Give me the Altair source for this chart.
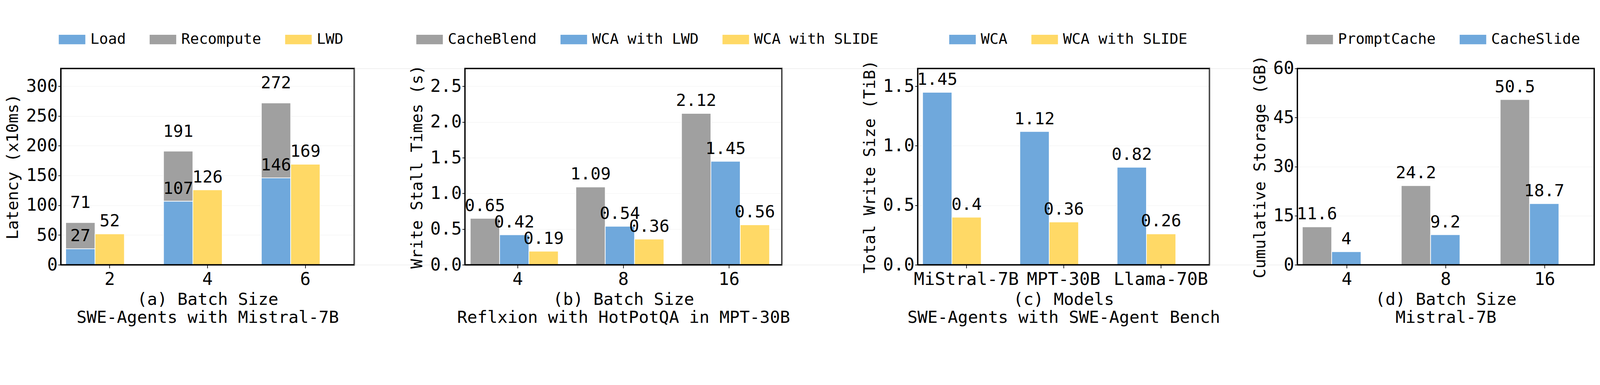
import altair as alt
import pandas as pd

FONT = "DejaVu Sans Mono"
BLUE, GRAY, YEL = "#6fa8dc", "#a0a0a0", "#ffd966"

# (a)
a_batch = ["2", "4", "6"]
a_load = [27, 107, 146]
a_total = [71, 191, 272]
a_lwd = [52, 126, 169]
# (b)
b_batch = ["4", "8", "16"]
b_cacheblend = [0.65, 1.09, 2.12]
b_lwd = [0.42, 0.54, 1.45]
b_slide = [0.19, 0.36, 0.56]
# (c)
c_models = ["MiStral-7B", "MPT-30B", "Llama-70B"]
c_wca = [1.45, 1.12, 0.82]
c_slide = [0.4, 0.36, 0.26]
# (d)
d_batch = ["4", "8", "16"]
d_prompt = [11.6, 24.2, 50.5]
d_slide = [4, 9.2, 18.7]

H = 585
RECT = "M-1.4,-0.5H1.4V0.5H-1.4Z"


def legend(lx):
    return alt.Legend(orient="none", legendX=lx, legendY=-115, title=None, direction="horizontal",
                      labelFont=FONT, labelFontSize=44, labelLimit=0, symbolType=RECT,
                      symbolSize=3200, symbolStrokeWidth=0, columnPadding=70,
                      labelOffset=26)


def xax(title):
    return alt.Axis(title=title, labelFont=FONT, labelFontSize=52, labelAngle=0, labelLimit=0,
                    titleFont=FONT, titleFontSize=50, titleFontWeight="normal",
                    domainColor="black", domainWidth=3, tickColor="black", tickSize=10, tickWidth=2,
                    titlePadding=10, labelPadding=8, titleLineHeight=54)


def yax(title, vals):
    return alt.Axis(title=title, values=vals, labelFont=FONT, labelFontSize=52,
                    titleFont=FONT, titleFontSize=48, titleFontWeight="normal",
                    domainColor="black", domainWidth=3, tickColor="black", tickSize=8, tickWidth=2,
                    gridColor="#eeeeee", titlePadding=14)


def panel(df, xtitle, ytitle, ydom, yvals, cats, colors, xorder, slots, w, lx):
    base = alt.Chart(df)
    x = alt.X("g:N", sort=xorder, axis=xax(xtitle),
              scale=alt.Scale(paddingInner=0.1, paddingOuter=0.05))
    xo = alt.XOffset("slot:N", sort=slots, scale=alt.Scale(paddingInner=0, paddingOuter=0))
    bars = base.mark_bar(stroke="white", strokeWidth=2).encode(
        x=x, xOffset=xo,
        y=alt.Y("y0:Q", scale=alt.Scale(domain=ydom, nice=False), axis=yax(ytitle, yvals)),
        y2="y1:Q",
        color=alt.Color("s:N", scale=alt.Scale(domain=cats, range=colors),
                        legend=legend(lx)),
        order="o:Q",
    )
    txt = base.transform_filter("datum.lab != ''").mark_text(
        font=FONT, fontSize=50, baseline="bottom", dy=-12).encode(
        x=x, xOffset=xo, y=alt.Y("ly:Q"), text="lab:N")
    frame = alt.Chart(df.head(1)).mark_rect(fill=None, stroke="black", strokeWidth=4).encode(
        x=alt.value(0), x2=alt.value(w), y=alt.value(0), y2=alt.value(H))
    return alt.layer(bars, txt, frame).properties(width=w, height=H)


def spacer(w):
    return alt.Chart(pd.DataFrame({"v": [0]})).mark_point(opacity=0).encode(
        x=alt.value(0), y=alt.value(0)).properties(width=w, height=H)


rows = []
for i, g in enumerate(a_batch):
    rows.append(dict(g=g, slot="A", s="Load", y0=0, y1=a_load[i], o=0, ly=a_load[i], lab=str(a_load[i])))
    rows.append(dict(g=g, slot="A", s="Recompute", y0=a_load[i], y1=a_total[i], o=1, ly=a_total[i] + 12, lab=str(a_total[i])))
    rows.append(dict(g=g, slot="B", s="LWD", y0=0, y1=a_lwd[i], o=2, ly=a_lwd[i], lab=str(a_lwd[i])))
pa = panel(pd.DataFrame(rows), ["(a) Batch Size", "SWE-Agents with Mistral-7B"],
           "Latency (x10ms)", [0, 330], [0, 50, 100, 150, 200, 250, 300],
           ["Load", "Recompute", "LWD"], [BLUE, GRAY, YEL], a_batch, ["A", "B"], 875, 5)

rows = []
for i, g in enumerate(b_batch):
    for sl, s, v in [("A", "CacheBlend", b_cacheblend), ("B", "WCA with LWD", b_lwd), ("C", "WCA with SLIDE", b_slide)]:
        rows.append(dict(g=g, slot=sl, s=s, y0=0, y1=v[i], o=0, ly=v[i], lab=f"{v[i]:.2f}"))
pb = panel(pd.DataFrame(rows), ["(b) Batch Size", "Reflxion with HotPotQA in MPT-30B"],
           "Write Stall Times (s)", [0, 2.75], [0, 0.5, 1.0, 1.5, 2.0, 2.5],
           ["CacheBlend", "WCA with LWD", "WCA with SLIDE"], [GRAY, BLUE, YEL], b_batch, ["A", "B", "C"],
           945, -134)

rows = []
for i, g in enumerate(c_models):
    for sl, s, v in [("A", "WCA", c_wca), ("B", "WCA with SLIDE", c_slide)]:
        rows.append(dict(g=g, slot=sl, s=s, y0=0, y1=v[i], o=0, ly=v[i], lab=f"{v[i]:g}"))
pc = panel(pd.DataFrame(rows), ["(c) Models", "SWE-Agents with SWE-Agent Bench"],
           "Total Write Size (TiB)", [0, 1.65], [0, 0.5, 1.0, 1.5],
           ["WCA", "WCA with SLIDE"], [BLUE, YEL], c_models, ["A", "B"], 870, 105)

rows = []
for i, g in enumerate(d_batch):
    for sl, s, v in [("A", "PromptCache", d_prompt), ("B", "CacheSlide", d_slide)]:
        rows.append(dict(g=g, slot=sl, s=s, y0=0, y1=v[i], o=0, ly=v[i], lab=f"{v[i]:g}"))
pd_ = panel(pd.DataFrame(rows), ["(d) Batch Size", "Mistral-7B"],
            "Cumulative Storage (GB)", [0, 60], [0, 15, 30, 45, 60],
            ["PromptCache", "CacheSlide"], [GRAY, BLUE], d_batch, ["A", "B"], 885, 38)

chart = alt.hconcat(pa, spacer(330), pb, spacer(405), pc, spacer(262), pd_,
                    spacing=0, bounds="flush").resolve_scale(color="independent").configure_view(
    stroke=None).configure(background="white")
chart.save("out.html", embed_options={"renderer": "svg", "actions": False})
